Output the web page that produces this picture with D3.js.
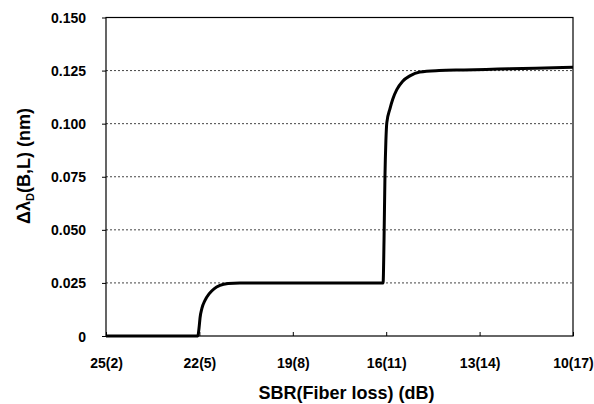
<!DOCTYPE html>
<html lang="en">
<head>
<meta charset="utf-8">
<title>Delta lambda vs SBR</title>
<script src="https://d3js.org/d3.v7.min.js"></script>
<style>
  body { margin: 0; background: #fff; }
  text { font-family: "Liberation Sans", Arial, sans-serif; font-weight: bold; fill: #000; }
</style>
</head>
<body>
<script>
// fiber loss (dB) along x, SBR = 27 - loss
var fiberLoss = [2, 3, 4, 4.95, 4.99, 5.02, 5.08, 5.18, 5.31, 5.47, 5.66, 5.92, 6.3, 7, 8, 9, 10, 10.9,
                 10.93, 10.96, 10.99, 11.02, 11.12, 11.21, 11.34, 11.53, 11.76, 12.08, 12.7, 13.5, 14.6, 15.8, 17];
var delta = [0, 0, 0, 0, 0.004, 0.0085, 0.013, 0.0168, 0.0198, 0.0222, 0.0238, 0.0247, 0.025, 0.025, 0.025, 0.025, 0.025, 0.025,
             0.045, 0.075, 0.092, 0.1005, 0.107, 0.1115, 0.116, 0.12, 0.1225, 0.1243, 0.125, 0.1253, 0.1257, 0.1261, 0.1266];
var xTicks = [2, 5, 8, 11, 14, 17];
var yTicks = [0, 0.025, 0.05, 0.075, 0.1, 0.125, 0.15];

var W = 594, H = 404;
var m = {left: 106, right: 21, top: 17.5, bottom: 68};

var svg = d3.select("body").append("svg").attr("width", W).attr("height", H);

var x = d3.scaleLinear().domain([2, 17]).range([m.left, W - m.right]);
var y = d3.scaleLinear().domain([0, 0.15]).range([H - m.bottom, m.top]);

// dotted grid
svg.append("g").selectAll("line")
  .data(yTicks.filter(function(d) { return d > 0 && d < 0.15; }))
  .enter().append("line")
  .attr("x1", x(2)).attr("x2", x(17))
  .attr("y1", function(d) { return y(d); }).attr("y2", function(d) { return y(d); })
  .attr("stroke", "#444").attr("stroke-width", 1).attr("stroke-dasharray", "2,2");

// frame
svg.append("rect")
  .attr("x", x(2)).attr("y", y(0.15))
  .attr("width", x(17) - x(2)).attr("height", y(0) - y(0.15))
  .attr("fill", "none").attr("stroke", "#000").attr("stroke-width", 1.2);

var yAxis = d3.axisLeft(y).tickValues(yTicks).tickSize(4).tickPadding(16)
  .tickFormat(function(d) { return d === 0 ? "0" : d3.format(".3f")(d); });
var gy = svg.append("g").attr("transform", "translate(" + x(2) + ",0)").call(yAxis);
gy.select(".domain").remove();
gy.selectAll("text").style("font-size", "14px").attr("dy", "0.36em");

var xAxis = d3.axisBottom(x).tickValues(xTicks).tickSize(-4).tickPadding(22)
  .tickFormat(function(d) { return (27 - d) + "(" + d + ")"; });
var gx = svg.append("g").attr("transform", "translate(0," + y(0) + ")").call(xAxis);
gx.select(".domain").remove();
gx.selectAll("text").style("font-size", "14px");

// curve
var pts = fiberLoss.map(function(d, i) { return [d, delta[i]]; });
var line = d3.line()
  .x(function(d) { return x(d[0]); })
  .y(function(d) { return y(d[1]); })
  .curve(d3.curveMonotoneX);
svg.append("path").datum(pts)
  .attr("d", line)
  .attr("fill", "none").attr("stroke", "#000").attr("stroke-width", 3)
  .attr("stroke-linejoin", "round");

// axis titles
svg.append("text")
  .attr("x", (x(2) + x(17)) / 2 + 7).attr("y", 399)
  .attr("text-anchor", "middle").style("font-size", "18px")
  .text("SBR(Fiber loss) (dB)");

var yt = svg.append("text")
  .attr("transform", "translate(30," + 166 + ") rotate(-90)")
  .attr("text-anchor", "middle").style("font-size", "18px");
yt.append("tspan").text("\u0394\u03bb");
yt.append("tspan").attr("dy", 4).style("font-size", "11px").text("D");
yt.append("tspan").attr("dy", -4).text("(B,L) (nm)");
</script>
</body>
</html>
